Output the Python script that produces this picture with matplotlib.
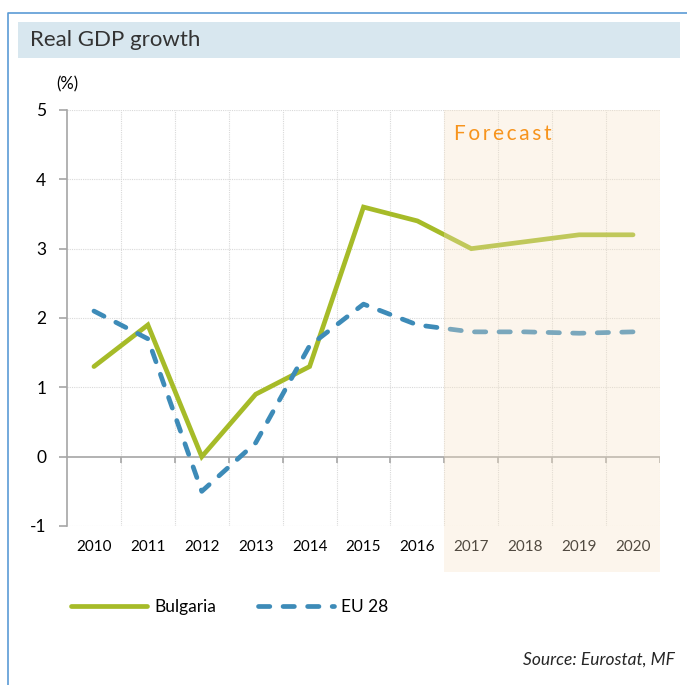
import matplotlib.pyplot as plt
import matplotlib.patches as mpatches
import matplotlib.transforms as mtrans
from matplotlib.lines import Line2D

years = ['2010', '2011', '2012', '2013', '2014', '2015', '2016',
         '2017', '2018', '2019', '2020']
bulgaria = [1.3, 1.9, 0.0, 0.9, 1.3, 3.6, 3.4, 3.0, 3.1, 3.2, 3.2]
eu28 = [2.1, 1.7, -0.5, 0.2, 1.6, 2.2, 1.9, 1.8, 1.8, 1.78, 1.8]
first_forecast = 7

plt.rcParams['font.family'] = ['Lato', 'DejaVu Sans']
plt.rcParams['axes.unicode_minus'] = False

green = '#A6BB28'
blue = '#3D8BB8'

fig = plt.figure(figsize=(6.87, 6.85), dpi=100)

# frame and title band
fig.add_artist(Line2D([8/687, 8/687, 1], [0, 1 - 13/685, 1 - 13/685],
                      color='#5B9BD5', lw=1.2))
fig.add_artist(mpatches.Rectangle((18/687, 1 - 58/685), 662/687, 36/685,
                                  color='#D8E7EF', lw=0))
fig.text(30/687, 1 - 40/685, 'Real GDP growth', fontsize=16, color='#333333',
         va='center', ha='left')

ax = fig.add_axes([67/687, 1 - 526/685, 593/687, 416/685])
x = list(range(len(years)))

ax.plot(x, bulgaria, color=green, lw=3.4, solid_capstyle='round',
        solid_joinstyle='miter', label='Bulgaria', zorder=4)
ax.plot(x, eu28, color=blue, lw=3.4, dashes=(2.4, 2.8),
        dash_capstyle='round', label='EU 28', zorder=4)

ax.set_xlim(-0.5, len(years) - 0.5)
ax.set_ylim(-1, 5)
ax.set_yticks(range(-1, 6))
ax.set_xticks(x)
ax.set_xticklabels(years)

# grid
for b in [i + 0.5 for i in range(len(years))]:
    ax.axvline(b, color='#D9D9D9', lw=0.8, ls=(0, (1, 1)), zorder=1)
for v in range(1, 6):
    ax.axhline(v, color='#D9D9D9', lw=0.8, ls=(0, (1, 1)), zorder=1)
ax.axhline(-1, color='#D9D9D9', lw=0.8, ls=(0, (1, 1)), zorder=1)
ax.axhline(0, color='#A6A6A6', lw=1.2, zorder=2)
ax.vlines([i + 0.5 for i in range(len(years))], -0.09, 0,
          color='#A6A6A6', lw=1.2, zorder=2)

for s in ['top', 'right', 'bottom']:
    ax.spines[s].set_visible(False)
ax.spines['left'].set_color('#A6A6A6')
ax.spines['left'].set_linewidth(1.2)
ax.tick_params(axis='y', length=6, color='#A6A6A6', width=1.2,
               labelsize=12.5, pad=9, labelcolor='#000000')
ax.tick_params(axis='x', length=0, labelsize=11, pad=10, labelcolor='#000000')

ax.text(-0.5, 5.37, '(%)', fontsize=12, ha='center', va='center')

# forecast shading laid over lines and labels
trans = mtrans.blended_transform_factory(ax.transData, ax.transAxes)
ax.add_patch(mpatches.Rectangle((first_forecast - 0.5, -0.111),
                                len(years) - first_forecast, 1.111,
                                transform=trans, facecolor='#F8E3C6',
                                alpha=0.33, lw=0, zorder=10, clip_on=False))
ax.text(first_forecast - 0.33, 4.66, '\u2009'.join('Forecast'), fontsize=15,
        color='#F7941D', ha='left', va='center', zorder=11)

ax.legend(loc='center left', bbox_to_anchor=(55/687, 1 - 607/685),
          bbox_transform=fig.transFigure, ncol=2, frameon=False,
          fontsize=12.5, handlelength=4.4, handletextpad=0.4,
          columnspacing=2.4)

fig.text(675/687, 1 - 660/685, 'Source: Eurostat, MF', fontsize=12.5,
         style='italic', color='#262626', ha='right', va='center')

plt.savefig('out.png', dpi=100)
